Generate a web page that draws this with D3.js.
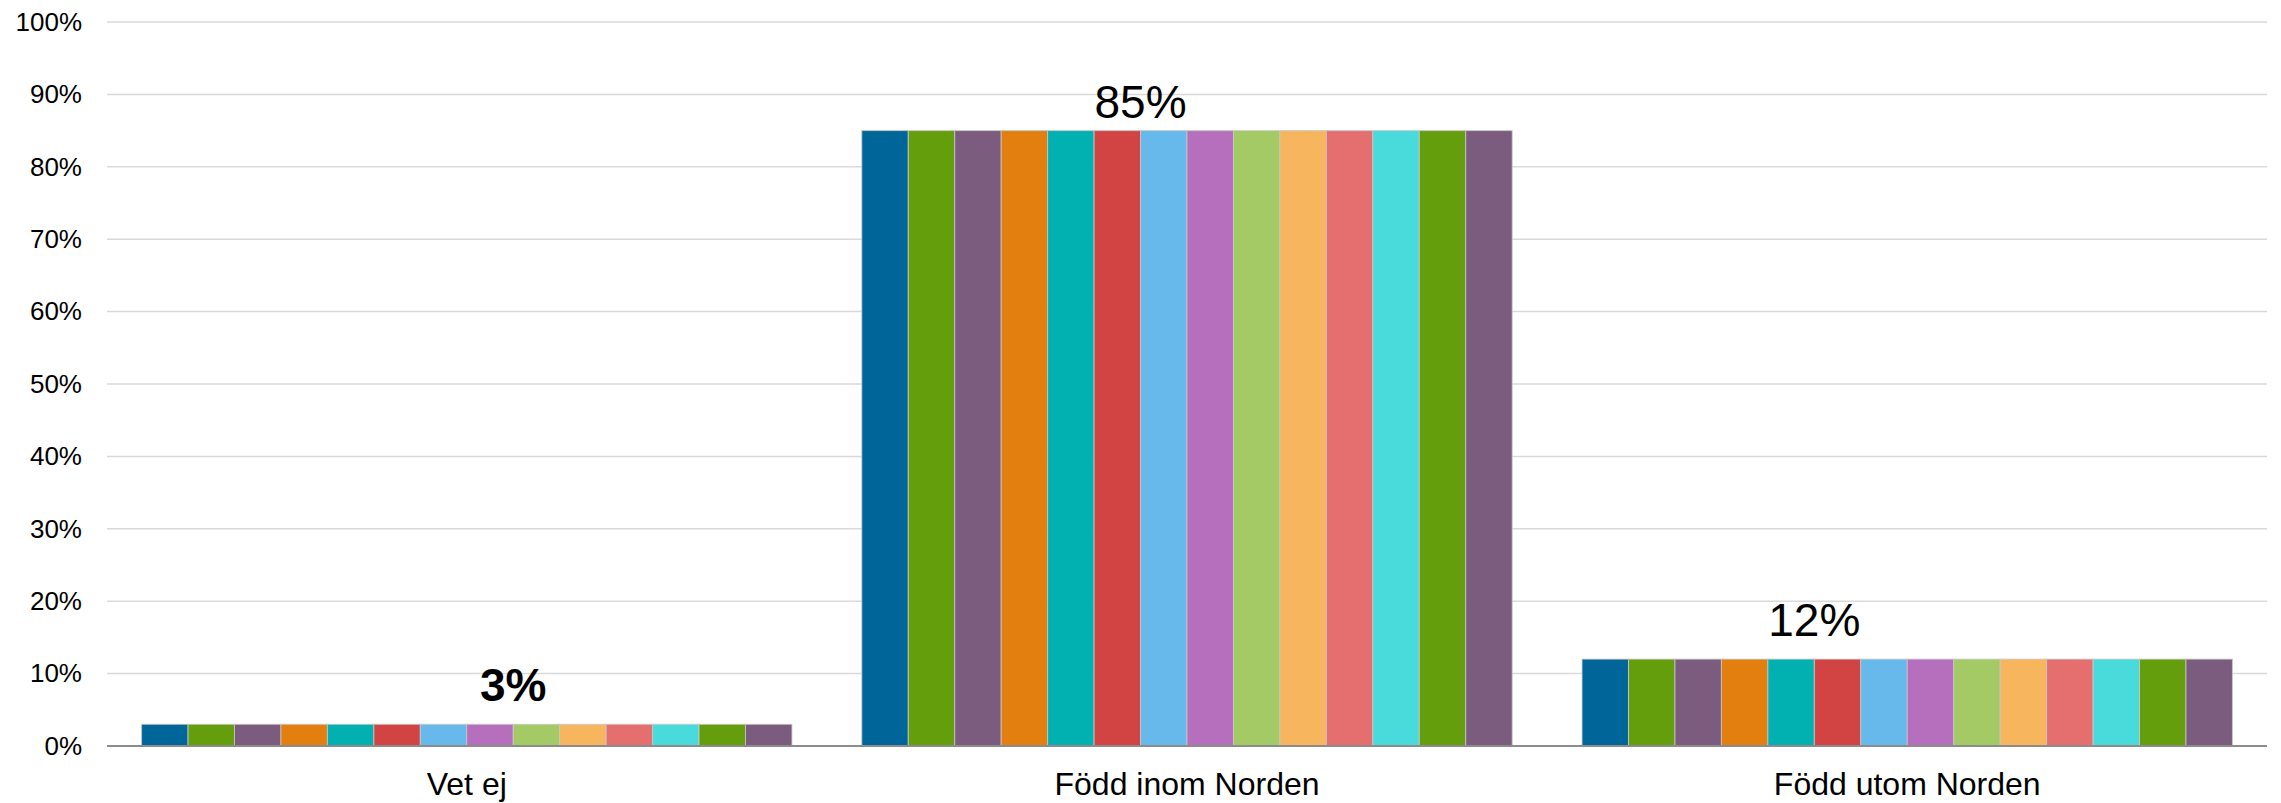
<!DOCTYPE html>
<html>
<head>
<meta charset="utf-8">
<script src="https://cdn.jsdelivr.net/npm/d3@7"></script>
<style>
  html, body { margin: 0; padding: 0; background: #ffffff; }
  svg { display: block; font-family: "Liberation Sans", Arial, sans-serif; }
</style>
</head>
<body>
<svg id="chart" width="2281" height="803"></svg>
<script>
// ---- Data ----
const categories = ["Vet ej", "Född inom Norden", "Född utom Norden"];
const seriesNames = ["S1","S2","S3","S4","S5","S6","S7","S8","S9","S10","S11","S12","S13","S14"];
const seriesColors = ["#006699","#659e0d","#7b5c7e","#e27f0f","#01b0b1","#d24444","#66b9ea",
                      "#b56fbd","#a4ca66","#f7b65e","#e56f6f","#49dbdc","#659e0d","#7b5c7e"];
// each series: values per category (fractions)
const seriesValues = [
  [0.03, 0.85, 0.12],[0.03, 0.85, 0.12],[0.03, 0.85, 0.12],[0.03, 0.85, 0.12],
  [0.03, 0.85, 0.12],[0.03, 0.85, 0.12],[0.03, 0.85, 0.12],[0.03, 0.85, 0.12],
  [0.03, 0.85, 0.12],[0.03, 0.85, 0.12],[0.03, 0.85, 0.12],[0.03, 0.85, 0.12],
  [0.03, 0.85, 0.12],[0.03, 0.85, 0.12]
];
const labelTexts = ["3%", "85%", "12%"];
const labelBold = [true, false, false];
const yTicks = [0, 0.1, 0.2, 0.3, 0.4, 0.5, 0.6, 0.7, 0.8, 0.9, 1.0];

// ---- Layout (style / position config) ----
const margin = { left: 107, right: 14, top: 22, bottom: 57 };
const W = 2281, H = 803;
const labelAnchorBar = [8, 6, 5];   // label centred at this bar boundary
const labelGap = [23, 13, 23];      // px between bar top and label baseline

const svg = d3.select("#chart");
const x0 = d3.scaleBand().domain(categories)
  .range([margin.left, W - margin.right]).paddingInner(0.097).paddingOuter(0.048);
const x1 = d3.scaleBand().domain(seriesNames).range([0, x0.bandwidth()]).padding(0);
const y = d3.scaleLinear().domain([0, 1]).range([H - margin.bottom, margin.top]);

// gridlines
svg.append("g").selectAll("line").data(yTicks.filter(d => d > 0)).join("line")
  .attr("x1", margin.left).attr("x2", W - margin.right)
  .attr("y1", d => y(d)).attr("y2", d => y(d))
  .attr("stroke", "#d9d9d9").attr("stroke-width", 1.5);

// y axis labels
const yAxis = d3.axisLeft(y).tickValues(yTicks).tickFormat(d3.format(".0%")).tickSize(0).tickPadding(25);
const yg = svg.append("g").attr("transform", `translate(${margin.left},0)`).call(yAxis);
yg.select(".domain").remove();
yg.selectAll("text").attr("font-size", 26).attr("fill", "#000")
  .attr("font-family", "'Liberation Sans', Arial, sans-serif");

// bars
const flat = [];
seriesNames.forEach((s, si) => categories.forEach((c, ci) => flat.push({ s, si, c, v: seriesValues[si][ci] })));
svg.append("g").selectAll("rect").data(flat).join("rect")
  .attr("x", d => x0(d.c) + x1(d.s))
  .attr("width", x1.bandwidth())
  .attr("y", d => y(d.v))
  .attr("height", d => y(0) - y(d.v))
  .attr("fill", d => seriesColors[d.si])
  .attr("stroke", "rgba(200,200,200,0.8)")
  .attr("stroke-width", 1);

// x axis line
svg.append("line").attr("x1", margin.left).attr("x2", W - margin.right)
  .attr("y1", y(0)).attr("y2", y(0)).attr("stroke", "#8c8c8c").attr("stroke-width", 2);

// x axis labels
const xAxis = d3.axisBottom(x0).tickSize(0).tickPadding(26);
const xg = svg.append("g").attr("transform", `translate(0,${y(0)})`).call(xAxis);
xg.select(".domain").remove();
xg.selectAll("text").attr("font-size", 32).attr("fill", "#000")
  .attr("font-family", "'Liberation Sans', Arial, sans-serif");

// value labels
svg.append("g").selectAll("text").data(categories).join("text")
  .attr("x", (c, i) => x0(c) + x1.step() * labelAnchorBar[i])
  .attr("y", (c, i) => y(d3.max(seriesValues, s => s[i])) - labelGap[i])
  .attr("text-anchor", "middle")
  .attr("font-size", 46)
  .attr("font-weight", (c, i) => labelBold[i] ? "bold" : "normal")
  .attr("fill", "#000")
  .text((c, i) => labelTexts[i]);
</script>
</body>
</html>
